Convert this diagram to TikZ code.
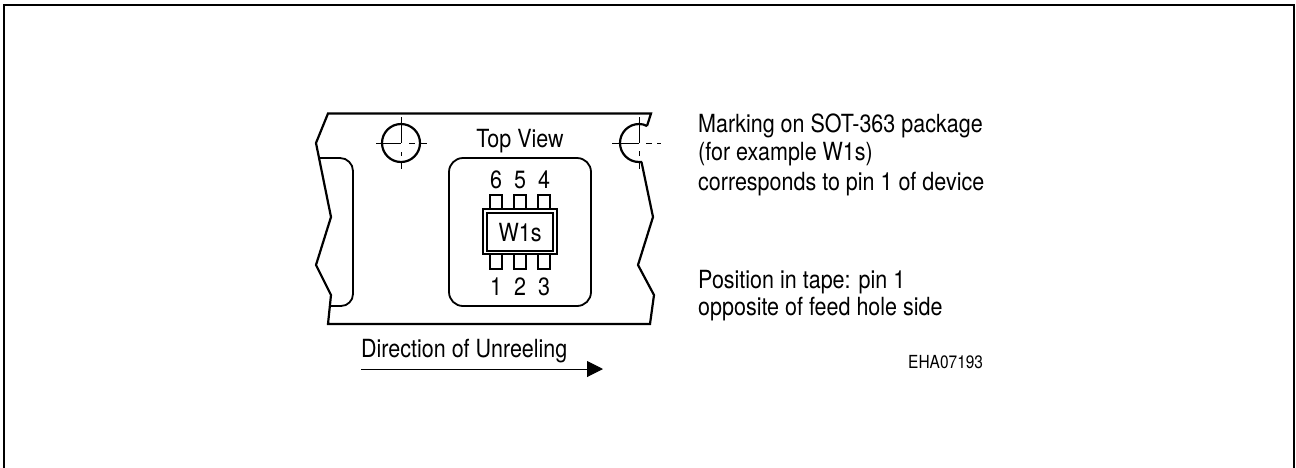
\documentclass[tikz,border=0pt]{standalone}
\usepackage{fontspec}
\setmainfont[FakeStretch=0.86]{TeX Gyre Heros}
\usetikzlibrary{arrows.meta}
\tikzset{
  x=1pt,y=-1pt,
  heavy/.style={draw=black,line width=2.2pt,line join=miter},
  medium/.style={draw=black,line width=1.8pt},
  axis/.style={draw=black,line width=1pt},
  label/.style={inner sep=0pt,anchor=base west,font=\fontsize{25}{29}\selectfont},
  clabel/.style={inner sep=0pt,anchor=base,font=\fontsize{25}{29}\selectfont},
  small/.style={inner sep=0pt,anchor=base west,font=\fontsize{18}{20}\selectfont},
}
\begin{document}
\begin{tikzpicture}
\useasboundingbox (0,0) rectangle (1296,467);
% frame
\clip (0,0) rectangle (1296,467);
\draw[line width=2pt] (4,470) -- (4,5) -- (1294,5) -- (1294,470);
% tape outline
\draw[heavy] (647,126) -- (651,113.5) -- (328,113.5) -- (316,143) -- (331,217) -- (316,265) -- (331,295) -- (328,324) -- (650,324) -- (654,295) -- (638,265) -- (653,217) -- (641.5,162);
% slot
\draw[medium] (319.5,158) -- (340,158) arc[start angle=-90,end angle=0,radius=13] -- (353,294) arc[start angle=0,end angle=90,radius=12] -- (330,306);
% feed holes
\draw[heavy] (401,143) circle[radius=19];
\draw[heavy] (647,126) .. controls (644,124.5) and (642,124) .. (639,124) arc[start angle=-90,end angle=-270,radius=19] -- (642,162);
% crosshairs
\draw[axis] (376,143) -- (401,143) (409,143) -- (415,143) (421,143) -- (427,143);
\draw[axis] (401,117) -- (401,143) (401,152) -- (401,156) (401,163) -- (401,169);
\draw[axis] (612,143) -- (639,143) (646,143) -- (652,143) (657,143) -- (661,143);
\draw[axis] (639,117) -- (639,143) (639,151) -- (639,156) (639,163) -- (639,169);
% pocket
\draw[medium,rounded corners=14pt] (449,158) rectangle (591,306);
% device
\foreach \px in {490,514,538}{
  \draw[medium] (\px,209) -- (\px,195) -- (\px+12,195) -- (\px+12,209);
  \draw[medium] (\px,254) -- (\px,269) -- (\px+12,269) -- (\px+12,254);
}
\draw[medium] (483,209) rectangle (557,254);
\draw[medium] (487,213) rectangle (553,251);
% text
\node[clabel] (top) at (520,147) {Top View};
\node[clabel] (p6) at (496,188) {6};
\node[clabel] (p5) at (520,188) {5};
\node[clabel] (p4) at (544,188) {4};
\node[clabel] (p1) at (496,295) {1};
\node[clabel] (p2) at (520,295) {2};
\node[clabel] (p3) at (544,295) {3};
\node[clabel] (mark) at (520,241) {W1s};
\node[label] (dir) at (361,357) {Direction of Unreeling};
\node[label] (t1) at (698,132) {Marking on SOT-363 package};
\node[label] (t2) at (698,160.5) {(for example W1s)};
\node[label] (t3) at (698,190) {corresponds to pin 1 of device};
\node[label] (t4) at (698,288) {Position in tape: pin 1};
\node[label] (t5) at (698,315.5) {opposite of feed hole side};
\node[small] (code) at (908,368) {EHA07193};
% arrow
\coordinate (as) at (361,369);
\coordinate (ae) at (603,369);
\draw[line width=1pt,-{Triangle[length=16pt,width=16pt]}] (as) -- (ae);
\end{tikzpicture}
\end{document}
